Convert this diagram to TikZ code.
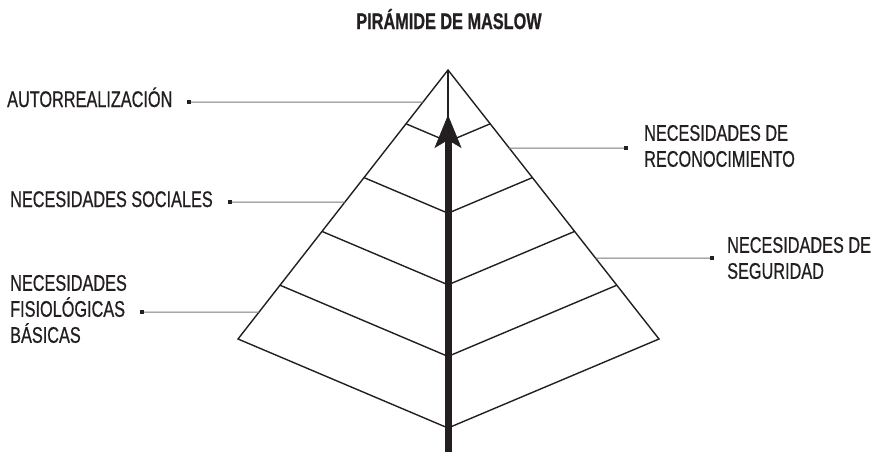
\documentclass[tikz,border=0pt]{standalone}
\usepackage{fontspec}
\setmainfont{Liberation Sans}[FakeStretch=0.72, FakeBold=0.7]
\usepackage{xcolor}
\usetikzlibrary{positioning, arrows.meta, calc}
\definecolor{inkblack}{HTML}{231F20}
\definecolor{leadgray}{HTML}{777777}

\begin{document}
\begin{tikzpicture}[x=1pt, y=-1pt,
    lbltext/.style={font=\fontsize{22.6}{26}\selectfont, text=inkblack, inner sep=0pt, align=left},
    titletext/.style={font=\fontsize{22.6}{26}\selectfont\bfseries, text=inkblack, inner sep=0pt},
    dotmark/.style={fill=inkblack, inner sep=0pt, minimum size=3.5pt},
    leader/.style={draw=leadgray, line width=1pt},
    pyrline/.style={draw=inkblack, line width=1.4pt, line join=miter}]
    \useasboundingbox (0,0) rectangle (877,451);
    \node[titletext, anchor=base] (title) at (449,29) {PIRÁMIDE DE MASLOW};
    % corners of the pyramid
    \coordinate (apex) at (448,70);
    \coordinate (bl) at (238,339);
    \coordinate (br) at (659,339);
    \coordinate (bc) at (448,428);
    \draw[pyrline] (apex) -- (bl) -- (bc) -- (br) -- cycle;
    \draw[pyrline] (apex) -- (bc);
    \foreach \t in {0.2,0.4,0.6,0.8}
      \draw[pyrline] ($(apex)!\t!(bl)$) -- ($(apex)!\t!(bc)$) -- ($(apex)!\t!(br)$);
    \coordinate (arrbase) at (448,452);
    \coordinate (arrtip) at (448,115);
    \draw[inkblack, line width=7pt, -{Stealth[length=33pt, width=27pt, inset=8pt, line width=0.5pt]}] (arrbase) -- (arrtip);
    % labels and leaders
    \node[lbltext, anchor=base west] (autorr) at (7,107) {AUTORREALIZACIÓN};
    \node[dotmark] (autorrdot) at (189,102) {};
    \coordinate (autorredge) at ($(apex)!0.119!(bl)$);
    \draw[leader] (autorrdot) -- (autorredge);
    \node[lbltext, anchor=base west] (social) at (10,207) {NECESIDADES SOCIALES};
    \node[dotmark] (socialdot) at (230,202) {};
    \coordinate (socialedge) at ($(apex)!0.491!(bl)$);
    \draw[leader] (socialdot) -- (socialedge);
    \node[lbltext, anchor=west] (fisio) at (10,309) {NECESIDADES\\FISIOLÓGICAS\\BÁSICAS};
    \node[dotmark] (fisiodot) at (142,312) {};
    \coordinate (fisioedge) at ($(apex)!0.9!(bl)$);
    \draw[leader] (fisiodot) -- (fisioedge);
    \node[lbltext, anchor=west] (recon) at (644,146) {NECESIDADES DE\\RECONOCIMIENTO};
    \node[dotmark] (recondot) at (626,148) {};
    \coordinate (reconedge) at ($(apex)!0.29!(br)$);
    \draw[leader] (reconedge) -- (recondot);
    \node[lbltext, anchor=west] (segur) at (727,258) {NECESIDADES DE\\SEGURIDAD};
    \node[dotmark] (segurdot) at (712,258) {};
    \coordinate (seguredge) at ($(apex)!0.699!(br)$);
    \draw[leader] (seguredge) -- (segurdot);
\end{tikzpicture}
\end{document}
